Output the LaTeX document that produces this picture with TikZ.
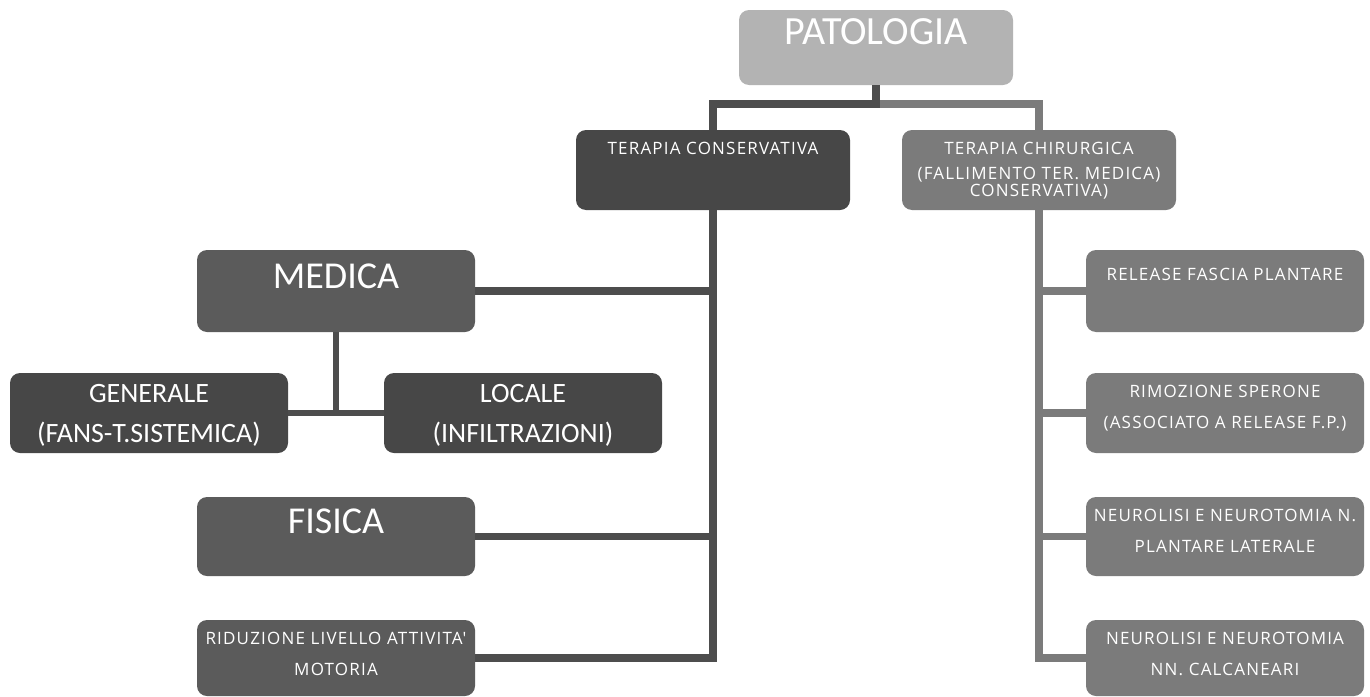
\documentclass[tikz,border=0pt]{standalone}
\usepackage{fontspec}
\newfontfamily\calfont{Carlito}
\newfontfamily\opfont[LetterSpace=7]{Open Sans}
\usepackage{tikz}
\definecolor{pale}{HTML}{B3B3B3}
\definecolor{deep}{HTML}{474747}
\definecolor{mid}{HTML}{5B5B5B}
\definecolor{soft}{HTML}{7B7B7B}
\definecolor{leftline}{HTML}{4D4D4D}
\tikzstyle{box} = [rectangle, rounded corners=10pt, minimum width=278pt, minimum height=80pt, inner sep=0pt]
\tikzstyle{boxtext} = [anchor=north, text=white, align=center, inner sep=0pt]
\tikzstyle{bigtext} = [font={\calfont\fontsize{38}{42}\selectfont}]
\tikzstyle{midtext} = [font={\calfont\fontsize{28}{40}\selectfont}]
\tikzstyle{smalltext} = [font={\opfont\fontsize{17}{31}\selectfont}]
\tikzstyle{link} = [line width=7.5pt]
\begin{document}
\begin{tikzpicture}[x=1pt,y=-1pt]
\useasboundingbox (0,0) rectangle (1370,696);
% root and the two therapies
\node[box,fill=pale,minimum width=274pt,minimum height=75pt,
    label={[boxtext,bigtext,font={\calfont\fontsize{40}{44}\selectfont},yshift=-9pt]north:PATOLOGIA}] (patologia) at (876,47.5) {};
\node[box,fill=deep,minimum width=274pt,
    label={[boxtext,smalltext,yshift=-12pt]north:TERAPIA CONSERVATIVA}] (conserv) at (713,170) {};
\node[box,fill=soft,minimum width=274pt,
    label={[boxtext,smalltext,yshift=-12pt]north:{TERAPIA CHIRURGICA\\[-6pt](FALLIMENTO TER. MEDICA)\\[-14pt]CONSERVATIVA)}}] (chir) at (1039,170) {};
% conservative branch
\node[box,fill=mid,minimum height=82pt,
    label={[boxtext,bigtext,yshift=-14pt]north:MEDICA}] (medica) at (336,291) {};
\node[box,fill=deep,
    label={[boxtext,midtext,yshift=-11pt]north:{GENERALE\\(FANS-T.SISTEMICA)}}] (generale) at (149,413) {};
\node[box,fill=deep,
    label={[boxtext,midtext,yshift=-11pt]north:{LOCALE\\(INFILTRAZIONI)}}] (locale) at (523,413) {};
\node[box,fill=mid,minimum height=79pt,
    label={[boxtext,bigtext,yshift=-12pt]north:FISICA}] (fisica) at (336,536.5) {};
\node[box,fill=mid,minimum height=76pt,
    label={[boxtext,smalltext,yshift=-12pt]north:{RIDUZIONE LIVELLO ATTIVITA'\\MOTORIA}}] (riduzione) at (336,658) {};
% surgical branch
\node[box,fill=soft,minimum height=82pt,
    label={[boxtext,smalltext,yshift=-18pt]north:RELEASE FASCIA PLANTARE}] (release) at (1225,291) {};
\node[box,fill=soft,
    label={[boxtext,smalltext,yshift=-12pt]north:{RIMOZIONE SPERONE\\(ASSOCIATO A RELEASE F.P.)}}] (sperone) at (1225,413) {};
\node[box,fill=soft,minimum height=79pt,
    label={[boxtext,smalltext,yshift=-12pt]north:{NEUROLISI E NEUROTOMIA N.\\PLANTARE LATERALE}}] (plantare) at (1225,536.5) {};
\node[box,fill=soft,minimum height=76pt,
    label={[boxtext,smalltext,yshift=-12pt]north:{NEUROLISI E NEUROTOMIA\\NN. CALCANEARI}}] (calcaneari) at (1225,658) {};
% connectors
\coordinate (hub) at (876,104);
\draw[link,soft] (hub) -| (chir.north);
\draw[link,leftline] (patologia.south) -- (hub) -| (conserv.north);
\draw[link,leftline] (conserv.south) |- (riduzione.east);
\foreach \n in {medica,fisica}
    \draw[link,leftline] (\n.east) -- (\n.east -| conserv.south);
\draw[link,leftline,line width=6.5pt] (medica.south) -- (medica.south |- generale.east);
\draw[link,leftline,line width=6.5pt] (generale.east) -- (locale.west);
\draw[link,soft] (chir.south) |- (calcaneari.west);
\foreach \n in {release,sperone,plantare}
    \draw[link,soft] (\n.west) -- (\n.west -| chir.south);
\end{tikzpicture}
\end{document}
